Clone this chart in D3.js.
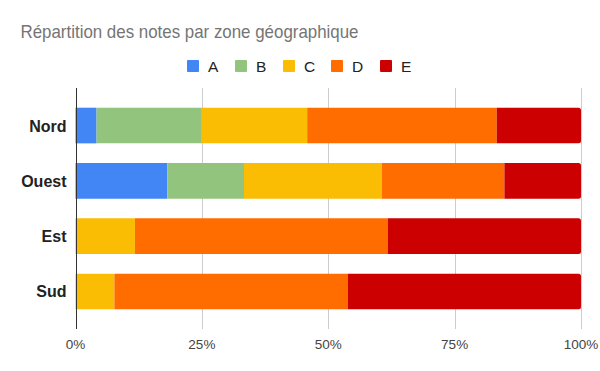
<!DOCTYPE html>
<html>
<head>
<meta charset="utf-8">
<script src="https://cdn.jsdelivr.net/npm/d3@7"></script>
<style>
  body { margin: 0; background: #fff; }
  svg { display: block; font-family: "Liberation Sans", Arial, sans-serif; }
</style>
</head>
<body>
<div id="chart"></div>
<script>
// zones and grades
var zones = ["Nord", "Ouest", "Est", "Sud"];
var grades = ["A", "B", "C", "D", "E"];
// number of notes per grade, one entry per zone
var countA = [1, 6, 0, 0];
var countB = [5, 5, 0, 0];
var countC = [5, 9, 4, 2];
var countD = [9, 8, 17, 12];
var countE = [4, 5, 13, 12];
var gradeColors = ["#4285f4", "#93c47d", "#fbbc04", "#ff6d01", "#cc0000"];
var tickValues = [0, 0.25, 0.5, 0.75, 1];

var width = 600, height = 371,
    margin = {top: 88, right: 19, bottom: 42, left: 75.5};

var rows = zones.map(function(z, i) {
  return {zone: z, A: countA[i], B: countB[i], C: countC[i], D: countD[i], E: countE[i]};
});

var stacked = d3.stack().keys(grades).offset(d3.stackOffsetExpand)(rows);

var x = d3.scaleLinear().domain([0, 1])
  .range([margin.left, width - margin.right]);
var y = d3.scaleBand().domain(zones)
  .range([margin.top, height - margin.bottom])
  .paddingInner(0.355).paddingOuter(0.356);
var color = d3.scaleOrdinal().domain(grades).range(gradeColors);

var svg = d3.select("#chart").append("svg")
  .attr("width", width).attr("height", height);

// title
svg.append("text")
  .attr("x", 20.5).attr("y", 38)
  .attr("textLength", 338).attr("lengthAdjust", "spacingAndGlyphs")
  .style("font-size", "18.5px")
  .style("fill", "#757575")
  .text("Répartition des notes par zone géographique");

// legend
var legendX = [187, 235, 283, 331, 380];
var legend = svg.append("g").selectAll("g")
  .data(grades).enter().append("g")
  .attr("transform", function(d, i) { return "translate(" + legendX[i] + ",60)"; });
legend.append("rect")
  .attr("width", 12).attr("height", 12).attr("rx", 1)
  .style("fill", function(d) { return color(d); });
legend.append("text")
  .attr("x", 21).attr("y", 11.5)
  .style("font-size", "15.5px")
  .style("fill", "#222")
  .text(function(d) { return d; });

// gridlines
svg.append("g").selectAll("line")
  .data(tickValues.slice(1)).enter().append("line")
  .attr("x1", function(d) { return Math.round(x(d)) + 0.5; })
  .attr("x2", function(d) { return Math.round(x(d)) + 0.5; })
  .attr("y1", margin.top).attr("y2", height - margin.bottom)
  .style("stroke", "#cccccc").style("stroke-width", 1);

// bar segments, last one gets rounded right corners
function segPath(x0, x1, y0, h, round) {
  var r = round ? Math.min(2.5, (x1 - x0)) : 0;
  return "M" + x0 + "," + y0 +
    "H" + (x1 - r) +
    (r ? "Q" + x1 + "," + y0 + " " + x1 + "," + (y0 + r) : "") +
    "V" + (y0 + h - r) +
    (r ? "Q" + x1 + "," + (y0 + h) + " " + (x1 - r) + "," + (y0 + h) : "") +
    "H" + x0 + "Z";
}

svg.append("g").selectAll("g")
  .data(stacked).enter().append("g")
  .style("fill", function(d) { return color(d.key); })
  .selectAll("path")
  .data(function(d) { return d.map(function(s) { s.key = d.key; return s; }); })
  .enter().append("path")
  .filter(function(d) { return d[1] - d[0] > 0; })
  .attr("d", function(d) {
    return segPath(x(d[0]), x(d[1]), y(d.data.zone), y.bandwidth(), d[1] >= 0.9999);
  });

// zero axis line
svg.append("line")
  .attr("x1", Math.round(x(0)) + 0.5).attr("x2", Math.round(x(0)) + 0.5)
  .attr("y1", margin.top).attr("y2", height - margin.bottom)
  .style("stroke", "#333").style("stroke-width", 1);

// x tick labels
svg.append("g").selectAll("text")
  .data(tickValues).enter().append("text")
  .attr("x", function(d) { return x(d); })
  .attr("y", 349)
  .attr("text-anchor", "middle")
  .style("font-size", "13.5px")
  .style("fill", "#444")
  .text(d3.format(".0%"));

// zone labels
svg.append("g").selectAll("text")
  .data(zones).enter().append("text")
  .attr("x", 66.5)
  .attr("y", function(d) { return y(d) + y.bandwidth() / 2 + 6; })
  .attr("text-anchor", "end")
  .style("font-size", "16px")
  .style("font-weight", "bold")
  .style("fill", "#222")
  .text(function(d) { return d; });
</script>
</body>
</html>
